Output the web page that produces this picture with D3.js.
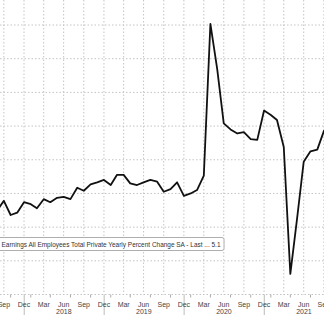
<!DOCTYPE html>
<html>
<head>
<meta charset="utf-8">
<script src="https://cdn.jsdelivr.net/npm/d3@7"></script>
<style>
    body { margin: 0; background: #fff; }
    svg { display: block; font-family: "Liberation Sans", Arial, sans-serif; }
</style>
</head>
<body>
<svg id="chart" width="324" height="315"></svg>
<script>
// Monthly readings, Aug 2017 .. Oct 2021 (month end dates).
const startYear = 2017;
const startMonth = 7; // August, zero based
const wageGrowth = [
    2.50, 2.78, 2.36, 2.43, 2.74,
    2.68, 2.56, 2.83, 2.74, 2.87, 2.90, 2.83, 3.17, 3.08, 3.27, 3.33, 3.40,
    3.25, 3.55, 3.55, 3.30, 3.25, 3.33, 3.40, 3.35, 3.05, 3.13, 3.33, 2.93,
    3.00, 3.10, 3.53, 8.03, 6.70, 5.08, 4.90, 4.78, 4.82, 4.61, 4.59, 5.46,
    5.33, 5.18, 4.38, 0.61, 2.27, 3.94, 4.25, 4.30, 4.85, 5.10
];
const yTicks = [0, 1, 2, 3, 4, 5, 6, 7, 8];
const monthLabels = ["Sep", "Dec", "Mar", "Jun", "Sep", "Dec", "Mar", "Jun", "Sep",
    "Dec", "Mar", "Jun", "Sep", "Dec", "Mar", "Jun", "Sep"];
const yearLabels = ["2018", "2019", "2020", "2021"];
const legendText = "Earnings All Employees Total Private Yearly Percent Change SA - Last ... 5.1";

const svg = d3.select("#chart");
const W = 324, H = 315;

// 80px per year, Dec 31 2017 sits at x = 24
const xScale = d3.scaleTime()
    .domain([new Date(2017, 11, 31), new Date(2021, 11, 31)])
    .range([24, 344]);

const yScale = d3.scaleLinear()
    .domain([0, 8])
    .range([294.5, 25]);

const data = wageGrowth.map((v, i) => {
    return {date: new Date(startYear, startMonth + i + 1, 0), value: v};
});

// quarter ends for grid lines / labels, starting Sep 30 2017
const quarterEnds = monthLabels.map((m, i) => new Date(2017, 9 + i * 3, 0));
const minorTicks = quarterEnds.map(d => new Date(d.getFullYear(), d.getMonth() + 2, 0));

// horizontal grid
svg.append("g")
    .selectAll("line")
    .data(yTicks)
    .join("line")
    .attr("x1", 0).attr("x2", W)
    .attr("y1", d => yScale(d)).attr("y2", d => yScale(d))
    .attr("stroke", "#c4c4c4")
    .attr("stroke-width", 1)
    .attr("stroke-dasharray", "1.5,2");

// vertical grid
svg.append("g")
    .selectAll("line")
    .data(quarterEnds)
    .join("line")
    .attr("x1", d => xScale(d)).attr("x2", d => xScale(d))
    .attr("y1", 0).attr("y2", yScale(0))
    .attr("stroke", "#c4c4c4")
    .attr("stroke-width", 1)
    .attr("stroke-dasharray", "1.5,2");

// small ticks under the axis
svg.append("g")
    .selectAll("line")
    .data(minorTicks)
    .join("line")
    .attr("x1", d => xScale(d)).attr("x2", d => xScale(d))
    .attr("y1", yScale(0)).attr("y2", yScale(0) + 3)
    .attr("stroke", "#aaa");

// year separators
svg.append("g")
    .selectAll("line")
    .data(yearLabels)
    .join("line")
    .attr("x1", d => xScale(new Date(+d, 0, 1)))
    .attr("x2", d => xScale(new Date(+d, 0, 1)))
    .attr("y1", yScale(0)).attr("y2", H)
    .attr("stroke", "#bbb");

// month labels
svg.append("g")
    .selectAll("text")
    .data(monthLabels)
    .join("text")
    .attr("x", (d, i) => xScale(quarterEnds[i]))
    .attr("y", 306.5)
    .attr("text-anchor", "middle")
    .attr("font-size", "7px")
    .attr("fill", "#444")
    .text(d => d);

// year labels, centred in the year
svg.append("g")
    .selectAll("text")
    .data(yearLabels)
    .join("text")
    .attr("x", d => xScale(new Date(+d, 6, 1)))
    .attr("y", 314)
    .attr("text-anchor", "middle")
    .attr("font-size", "7px")
    .attr("fill", "#444")
    .text(d => d);

// the series
const line = d3.line()
    .x(d => {return xScale(d.date);})
    .y(d => {return yScale(d.value);});

svg.append("path")
    .datum(data)
    .attr("d", line)
    .attr("fill", "none")
    .attr("stroke", "#111")
    .attr("stroke-width", 1.8)
    .attr("stroke-linejoin", "round");

// legend box
const legend = svg.append("g");
legend.append("rect")
    .attr("x", -2).attr("y", 237.5)
    .attr("width", 226).attr("height", 13)
    .attr("rx", 2)
    .attr("fill", "#fff")
    .attr("stroke", "#999")
    .attr("stroke-width", 0.8);
legend.append("text")
    .attr("x", 1.5).attr("y", 246.5)
    .attr("font-size", "6.3px")
    .attr("fill", "#333")
    .attr("textLength", 219)
    .attr("lengthAdjust", "spacingAndGlyphs")
    .text(legendText);
</script>
</body>
</html>
